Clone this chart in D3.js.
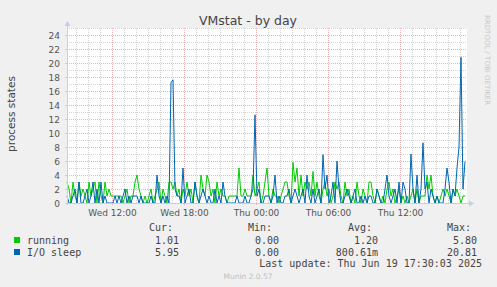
<!DOCTYPE html>
<html>
<head>
<meta charset="utf-8">
<script src="https://cdn.jsdelivr.net/npm/d3@7"></script>
<style>
  body { margin: 0; background: #f0f0f0; }
  svg { display: block; }
</style>
</head>
<body>
<div id="chart"></div>
<script>
// samples every 10 minutes, from Wed 08:15
var startTime = new Date(2025, 5, 18, 8, 15)
var endTime = new Date(2025, 5, 19, 17, 35)
var stepMinutes = 10

var running = [3,2,0,3,1,0,3,1,2,1,0,3,1,2,3,0,3,1,0,3,1,2,
  1,1,1,1,1,1, 0,1,2,0,1,1,3, 4, 2,1,0,1,0,1,2,0,1, 2, 3,0,2,1,0,3,
  3,2, 3,1,2,0, 2, 1,3,1,2,0,3,1,0, 4,2,1,4, 3,1,2,0,3,1,2, 1, 1,0,1,
  1,1,1,1,5,1, 1,2,1,1,1, 4, 1, 2,3,0,1,3, 5, 1,0,2, 1, 1,0,1,2,3,
  3,1,0, 5.8,3, 5, 1,4,1,3, 2, 3,1,4.5,1, 3,1,0, 2, 3,1,2,0,1,3, 2,
  3,1,0,3,1,2, 0,1,0,3,1,0,2,1,0,3, 3,1,0,2,1, 0,1,0, 2, 3,1,2,0,1,
  2,0,1, 0,1,0, 1, 2,0, 2, 0,1, 1, 1,4,2,4, 1,0,1,0,1,2, 1, 2, 1,0,2,
  1, 2, 1, 0, 1, 1.01]

var iosleep = [1,0,0,1,2,0,3,0,0,1,2,0,1,3,0,2,0,3,0,1,0,0,
  0,0,1,0,1,0, 1,2,0,1,0,1,1, 1, 0,1,0,0,0,0,1,0,0, 4, 1,0,1,0,1,0,
  17.2,17.6, 2,1,1,0, 5, 0,1,2,0,0,3,1,0, 1,2,1,0, 1,0,0,2,0,1,0, 3, 1,0,0,
  0,0,0,1,0,0, 0,1,0,0,1, 2, 12.6, 1,2,0,0,1, 1, 1,0,1, 4, 0,1,0,0,1,
  1,2,0, 1,2, 1, 0,1,2,0, 4, 1,0,2,0, 1,2,0, 6.9, 2,4,0,1,3,0, 6,
  2,0,0,1,2,1, 0,1,2,0,0,1,0,1,0,1, 1,0,0,2,1, 0,0,2, 4, 1,0,1,2,0,
  3,0,3, 2,0,0, 7, 2,0, 4, 0,2, 8.6, 2,3,0,2, 1,0,1,0,0,0, 2, 5, 3,0,2,
  1, 5, 8, 20.81, 2, 5.95]

var yTicks = [0,2,4,6,8,10,12,14,16,18,20,22,24]

var legendRows = [
  {name: "running", color: "#00cc00", cur: "1.01", min: "0.00", avg: "1.20", max: "5.80"},
  {name: "I/O sleep", color: "#0066b3", cur: "5.95", min: "0.00", avg: "800.61m", max: "20.81"}
]

var W = 497, H = 287
var pLeft = 67, pRight = 467, pTop = 28, pBottom = 203

var svg = d3.select("#chart").append("svg")
  .attr("width", W).attr("height", H)
  .style("font-family", "'DejaVu Sans', sans-serif")

svg.append("rect").attr("width", W).attr("height", H).attr("fill", "#f0f0f0")
svg.append("rect")
  .attr("x", pLeft).attr("y", pTop)
  .attr("width", pRight - pLeft).attr("height", pBottom - pTop)
  .attr("fill", "#ffffff")

var x = d3.scaleTime().domain([startTime, endTime]).range([pLeft, pRight])
var y = d3.scaleLinear().domain([0, 25]).range([pBottom, pTop])

// grid
var minorCol = "#d4d4d4", majorCol = "#e6b4b4"
var g = svg.append("g")
d3.range(1, 26).forEach(function(v){
  var yy = Math.round(y(v)) + 0.5
  g.append("line")
    .attr("x1", pLeft).attr("x2", pRight)
    .attr("y1", yy).attr("y2", yy)
    .attr("stroke", v % 2 == 0 ? majorCol : minorCol)
    .attr("stroke-dasharray", "1,1")
})
x.ticks(d3.timeHour.every(1)).forEach(function(t){
  var xx = Math.round(x(t)) + 0.5
  if (xx <= pLeft + 1) return
  g.append("line")
    .attr("x1", xx).attr("x2", xx)
    .attr("y1", pTop).attr("y2", pBottom)
    .attr("stroke", t.getHours() % 6 == 0 ? majorCol : minorCol)
    .attr("stroke-dasharray", "1,1")
})

// ticks + labels
yTicks.forEach(function(v){
  var yy = Math.round(y(v)) + 0.5
  svg.append("line").attr("x1", pLeft - 2).attr("x2", pLeft + 1)
    .attr("y1", yy).attr("y2", yy).attr("stroke", "#ccccdd")
  svg.append("text")
    .attr("x", 60).attr("y", yy + 3.5)
    .attr("text-anchor", "end")
    .attr("font-size", "9px").attr("fill", "#555")
    .text(v)
})
var fmt = d3.timeFormat("%a %H:%M")
x.ticks(d3.timeHour.every(6)).forEach(function(t){
  var xx = Math.round(x(t)) + 0.5
  svg.append("line").attr("x1", xx).attr("x2", xx)
    .attr("y1", pBottom - 1).attr("y2", pBottom + 2).attr("stroke", majorCol)
  svg.append("text")
    .attr("x", xx).attr("y", 216)
    .attr("text-anchor", "middle")
    .attr("font-size", "9px").attr("fill", "#555")
    .text(fmt(t))
})

// series
function timeAt(i){ return new Date(startTime.getTime() + i * stepMinutes * 60000) }
var line = d3.line()
  .x(function(d, i){ return x(timeAt(i)) })
  .y(function(d){ return y(d) })

svg.append("path").datum(running)
  .attr("d", line).attr("fill", "none")
  .attr("stroke", "#00cc00").attr("stroke-width", 1)
svg.append("path").datum(iosleep)
  .attr("d", line).attr("fill", "none")
  .attr("stroke", "#0066b3").attr("stroke-width", 1)

// axes with arrows
var axisColor = "#c8ccf0"
svg.append("line").attr("x1", pLeft - 2).attr("x2", pRight + 2)
  .attr("y1", pBottom + 0.5).attr("y2", pBottom + 0.5).attr("stroke", axisColor)
svg.append("line").attr("x1", pLeft + 0.5).attr("x2", pLeft + 0.5)
  .attr("y1", pBottom + 2).attr("y2", pTop - 2).attr("stroke", axisColor)
svg.append("path").attr("d", "M" + (pRight + 2) + "," + (pBottom - 2.5) + "L" + (pRight + 7) + "," + (pBottom + 0.5) + "L" + (pRight + 2) + "," + (pBottom + 3.5) + "Z")
  .attr("fill", axisColor)
svg.append("path").attr("d", "M" + (pLeft - 2.5) + "," + (pTop - 2) + "L" + (pLeft + 0.5) + "," + (pTop - 7) + "L" + (pLeft + 3.5) + "," + (pTop - 2) + "Z")
  .attr("fill", axisColor)

// title + labels
svg.append("text").attr("x", 248).attr("y", 25)
  .attr("text-anchor", "middle").attr("font-size", "12.5px").attr("fill", "#444")
  .text("VMstat - by day")
svg.append("text")
  .attr("transform", "translate(15,114) rotate(-90)")
  .attr("text-anchor", "middle").attr("font-size", "10.5px").attr("fill", "#444")
  .text("process states")
svg.append("text")
  .attr("transform", "translate(485,15) rotate(90)")
  .attr("font-size", "7px").attr("fill", "#c8c8c8")
  .text("RRDTOOL / TOBI OETIKER")

// legend
var mono = "'DejaVu Sans Mono', monospace"
var heads = [["Cur:", 149], ["Min:", 248], ["Avg:", 348], ["Max:", 447]]
heads.forEach(function(h){
  svg.append("text").attr("x", h[1]).attr("y", 231)
    .attr("font-family", mono).attr("font-size", "10px").attr("fill", "#444")
    .text(h[0])
})
legendRows.forEach(function(r, i){
  var yy = 244 + i * 12
  svg.append("rect").attr("x", 14).attr("y", yy - 7)
    .attr("width", 6).attr("height", 6).attr("fill", r.color)
  svg.append("text").attr("x", 27).attr("y", yy)
    .attr("font-family", mono).attr("font-size", "10px").attr("fill", "#444")
    .text(r.name)
  ;[[r.cur, 179], [r.min, 279], [r.avg, 378], [r.max, 477]].forEach(function(c){
    svg.append("text").attr("x", c[1]).attr("y", yy)
      .attr("text-anchor", "end")
      .attr("font-family", mono).attr("font-size", "10px").attr("fill", "#444")
      .text(c[0])
  })
})
svg.append("text").attr("x", 482).attr("y", 267)
  .attr("text-anchor", "end")
  .attr("font-family", mono).attr("font-size", "10px").attr("fill", "#444")
  .text("Last update: Thu Jun 19 17:30:03 2025")
svg.append("text").attr("x", 248).attr("y", 279)
  .attr("text-anchor", "middle").attr("font-size", "7.5px").attr("fill", "#c0c0c0")
  .text("Munin 2.0.57")
</script>
</body>
</html>
